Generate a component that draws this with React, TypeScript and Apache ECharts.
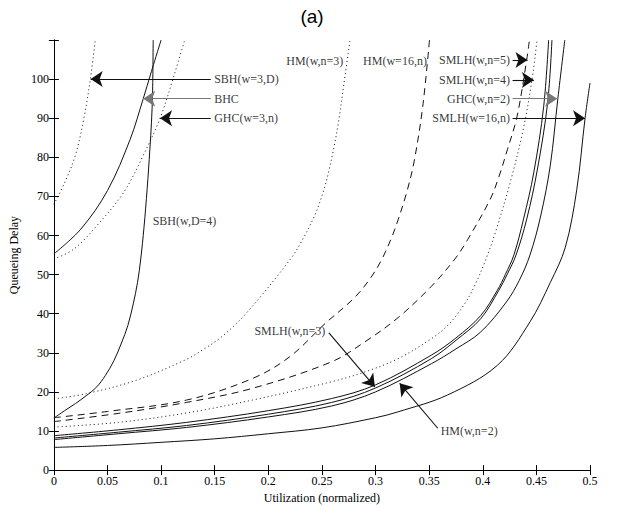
import React, { useEffect, useRef } from "react";
import * as echarts from "echarts";

// ---------- axis ticks ----------
const X_MIN = 0;
const X_MAX = 0.5;
const X_STEP = 0.05;
const Y_MIN = 0;
const Y_MAX = 110;
const Y_STEP = 10;

// ---------- curves: [utilization, queueing delay] ----------
const SBH_W3_D: [number, number][] = [
  [0, 68], [0.01, 73.5], [0.02, 80.5], [0.028, 90], [0.034, 100], [0.0386, 110],
];
const BHC: [number, number][] = [
  [0, 55.3], [0.025, 61.6], [0.05, 71.5], [0.071, 84.5], [0.083, 94.7], [0.091, 102], [0.1, 110],
];
const GHC_W3_N: [number, number][] = [
  [0, 54], [0.0185, 56.5], [0.04, 62.5], [0.065, 71], [0.083, 80.3], [0.099, 90], [0.111, 100], [0.122, 110],
];
const SBH_W_D4: [number, number][] = [
  [0, 13.3], [0.01, 15.2], [0.02, 17], [0.03, 19], [0.04, 21.3], [0.048, 24.2], [0.056, 28],
  [0.063, 32.5], [0.069, 37], [0.074, 42.5], [0.078, 48], [0.081, 54], [0.084, 62], [0.087, 72],
  [0.0895, 82], [0.091, 89], [0.092, 96], [0.0926, 110],
];
const HM_W_N3: [number, number][] = [
  [0, 18.2], [0.031, 19.6], [0.077, 23], [0.1235, 28.3], [0.139, 30.8], [0.156, 34], [0.179, 40],
  [0.2207, 54], [0.233, 59.5], [0.2438, 65.5], [0.251, 71], [0.256, 76], [0.2615, 83], [0.2654, 89],
  [0.2716, 101], [0.2762, 110],
];
const HM_W16_N: [number, number][] = [
  [0, 13.4], [0.05, 15], [0.1235, 17.9], [0.185, 23.4], [0.22, 29], [0.253, 37.5], [0.28, 44],
  [0.295, 49], [0.306, 54], [0.315, 59.5], [0.321, 64], [0.329, 71], [0.336, 79], [0.344, 93], [0.3503, 110],
];
const SMLH_W_N5: [number, number][] = [
  [0, 12.4], [0.06, 14.5], [0.1235, 17.3], [0.185, 20.9], [0.259, 27.7], [0.29, 32.8], [0.321, 39],
  [0.352, 47], [0.374, 54], [0.386, 59], [0.407, 69.3], [0.415, 75], [0.423, 82], [0.432, 90.5],
  [0.441, 105], [0.4435, 110],
];
const SMLH_W_N4: [number, number][] = [
  [0, 11], [0.06, 12.2], [0.1235, 14.6], [0.185, 17.9], [0.259, 22.6], [0.29, 25.1], [0.321, 28.5],
  [0.352, 33.6], [0.368, 37.2], [0.383, 42.5], [0.393, 47.5], [0.403, 54], [0.412, 61], [0.426, 74],
  [0.438, 87.5], [0.446, 100], [0.4506, 110],
];
const SOLID_I: [number, number][] = [
  [0, 8.8], [0.06, 10.3], [0.1235, 12.2], [0.2, 15.2], [0.259, 18.3], [0.3, 21.8], [0.352, 29.4],
  [0.375, 33.8], [0.398, 39.5], [0.4136, 46], [0.421, 50], [0.429, 55], [0.438, 64.2], [0.4475, 76],
  [0.4568, 93], [0.4614, 110],
];
const SMLH_W_N3: [number, number][] = [
  [0, 8.2], [0.06, 9.7], [0.1235, 11.4], [0.2, 14.3], [0.259, 17.3], [0.3, 21], [0.352, 28.5],
  [0.375, 33.2], [0.398, 38.7], [0.415, 46], [0.423, 50.2], [0.431, 55], [0.441, 64.2], [0.451, 77],
  [0.4605, 94], [0.4645, 110],
];
const HM_W_N2: [number, number][] = [
  [0, 7.8], [0.06, 9.3], [0.1235, 10.9], [0.2, 13.6], [0.259, 16.4], [0.3, 20], [0.352, 27.2],
  [0.375, 31], [0.398, 35.3], [0.422, 43], [0.434, 48.5], [0.444, 55], [0.454, 65], [0.463, 78],
  [0.47, 95], [0.4765, 110],
];
const SMLH_W16_N: [number, number][] = [
  [0, 5.8], [0.05, 6.3], [0.1, 7.1], [0.15, 8], [0.2, 9.3], [0.25, 10.8], [0.3, 13.4], [0.321, 14.9],
  [0.367, 19.2], [0.4136, 26.8], [0.444, 37.9], [0.463, 48], [0.477, 57], [0.4877, 71.8], [0.4954, 90], [0.5, 99],
];

// ---------- annotation texts and arrows (data coordinates) ----------
const LABEL_TEXTS = [
  "SBH(w=3,D)", "BHC", "GHC(w=3,n)", "SBH(w,D=4)", "HM(w,n=3)", "HM(w=16,n)",
  "SMLH(w,n=5)", "SMLH(w,n=4)", "GHC(w,n=2)", "SMLH(w=16,n)", "SMLH(w,n=3)", "HM(w,n=2)",
];
const LABEL_AT: [number, number][] = [
  [0.1481, 100], [0.1481, 95], [0.1481, 90], [0.0907, 63.7], [0.2713, 104.7], [0.287, 104.7],
  [0.4268, 104.9], [0.4268, 99.8], [0.4268, 95], [0.4268, 90], [0.2546, 35.5], [0.3593, 9.9],
];
const LABEL_SIDE = [
  "right", "right", "right", "right", "left", "right",
  "left", "left", "left", "left", "left", "right",
];
const ARROW_FROM: [number, number][] = [
  [0.1463, 100], [0.1463, 95], [0.1463, 90], [0.4278, 104.9], [0.4278, 99.8],
  [0.4278, 95], [0.4278, 90], [0.2565, 35.1], [0.358, 10.7],
];
const ARROW_TO: [number, number][] = [
  [0.0343, 100], [0.0833, 95], [0.099, 90], [0.4417, 104.9], [0.4477, 99.8],
  [0.4694, 95], [0.4954, 90], [0.2994, 21.3], [0.3225, 22.2],
];
const ARROW_GREY = [false, true, false, false, false, true, false, false, false];

const SERIF = "'Liberation Serif', 'Times New Roman', serif";

const CURVES = [
  { name: "SBH(w=3,D)", data: SBH_W3_D, dash: "dot" },
  { name: "BHC", data: BHC, dash: "solid" },
  { name: "GHC(w=3,n)", data: GHC_W3_N, dash: "dot" },
  { name: "SBH(w,D=4)", data: SBH_W_D4, dash: "solid" },
  { name: "HM(w,n=3)", data: HM_W_N3, dash: "dot" },
  { name: "HM(w=16,n)", data: HM_W16_N, dash: "dash" },
  { name: "SMLH(w,n=5)", data: SMLH_W_N5, dash: "dash" },
  { name: "SMLH(w,n=4)", data: SMLH_W_N4, dash: "dot" },
  { name: "solid-i", data: SOLID_I, dash: "solid" },
  { name: "SMLH(w,n=3)", data: SMLH_W_N3, dash: "solid" },
  { name: "HM(w,n=2)", data: HM_W_N2, dash: "solid" },
  { name: "SMLH(w=16,n)", data: SMLH_W16_N, dash: "solid" },
];

function dashType(d: string): any {
  if (d === "dot") return [1, 3];
  if (d === "dash") return [7, 5];
  return "solid";
}

export default function App() {
  const ref = useRef<HTMLDivElement>(null);

  useEffect(() => {
    if (!ref.current) return;
    const chart = echarts.init(ref.current, null, { renderer: "svg" });

    const axisCommon = {
      type: "value" as const,
      axisLine: { show: true, lineStyle: { color: "#000", width: 1 } },
      axisTick: { show: true, inside: true, length: 5, lineStyle: { color: "#000" } },
      splitLine: { show: false },
    };

    const lineSeries = CURVES.map((c) => ({
      type: "line",
      name: c.name,
      data: c.data,
      showSymbol: false,
      symbol: "none",
      smooth: 0.35,
      clip: true,
      silent: true,
      lineStyle: { color: "#111", width: 1, type: dashType(c.dash) },
      emphasis: { disabled: true },
      z: 2,
    }));

    const labelSeries = {
      type: "scatter",
      name: "annotations",
      silent: true,
      symbol: "circle",
      symbolSize: 1,
      itemStyle: { color: "transparent" },
      emphasis: { disabled: true },
      z: 5,
      label: {
        show: true,
        formatter: "{b}",
        distance: 1,
        color: "#000",
        fontFamily: SERIF,
        fontSize: 12,
      },
      data: LABEL_TEXTS.map((t, i) => ({
        name: t,
        value: LABEL_AT[i],
        label: { position: LABEL_SIDE[i] },
      })),
      markLine: {
        silent: true,
        animation: false,
        symbol: ["none", "arrow"],
        symbolSize: 12,
        label: { show: false },
        emphasis: { disabled: true },
        lineStyle: { color: "#111", width: 1.1, type: "solid" },
        data: ARROW_FROM.map((f, i) => {
          const col = ARROW_GREY[i] ? "#777" : "#111";
          return [
            { coord: f, lineStyle: { color: col, width: 1.1, type: "solid" }, itemStyle: { color: col } },
            { coord: ARROW_TO[i], lineStyle: { color: col, width: 1.1, type: "solid" }, itemStyle: { color: col } },
          ];
        }),
      },
    };

    chart.setOption({
      animation: false,
      backgroundColor: "#fff",
      title: {
        text: "(a)",
        left: "center",
        top: 2,
        textStyle: { fontFamily: "'Liberation Sans', Arial, sans-serif", fontSize: 19, fontWeight: "normal", color: "#000" },
      },
      grid: { left: 50, right: 34, top: 40, bottom: 37, containLabel: false },
      xAxis: [
        {
          ...axisCommon,
          position: "bottom",
          min: X_MIN,
          max: X_MAX,
          interval: X_STEP,
          axisLabel: {
            color: "#000",
            fontFamily: SERIF,
            fontSize: 12,
            margin: 5,
            formatter: (v: number) => String(parseFloat(v.toFixed(2))),
          },
          name: "Utilization (normalized)",
          nameLocation: "middle",
          nameGap: 18,
          nameTextStyle: { color: "#000", fontFamily: SERIF, fontSize: 12 },
        },
        {
          ...axisCommon,
          position: "top",
          min: X_MIN,
          max: X_MAX,
          interval: X_STEP,
          axisLabel: { show: false },
        },
      ],
      yAxis: [
        {
          ...axisCommon,
          position: "left",
          min: Y_MIN,
          max: Y_MAX,
          interval: Y_STEP,
          axisLabel: {
            color: "#000",
            fontFamily: SERIF,
            fontSize: 12,
            margin: 5,
            formatter: (v: number) => (v >= Y_MAX ? "" : String(v)),
          },
          name: "Queueing Delay",
          nameLocation: "middle",
          nameGap: 25,
          nameTextStyle: { color: "#000", fontFamily: SERIF, fontSize: 12 },
        },
        {
          ...axisCommon,
          position: "right",
          min: Y_MIN,
          max: Y_MAX,
          interval: Y_STEP,
          axisLabel: { show: false },
        },
      ],
      series: [...lineSeries, labelSeries],
    });

    return () => chart.dispose();
  }, []);

  return (
    <div
      ref={ref}
      style={{ position: "fixed", left: 0, top: 0, width: 624, height: 509, background: "#fff" }}
    />
  );
}
